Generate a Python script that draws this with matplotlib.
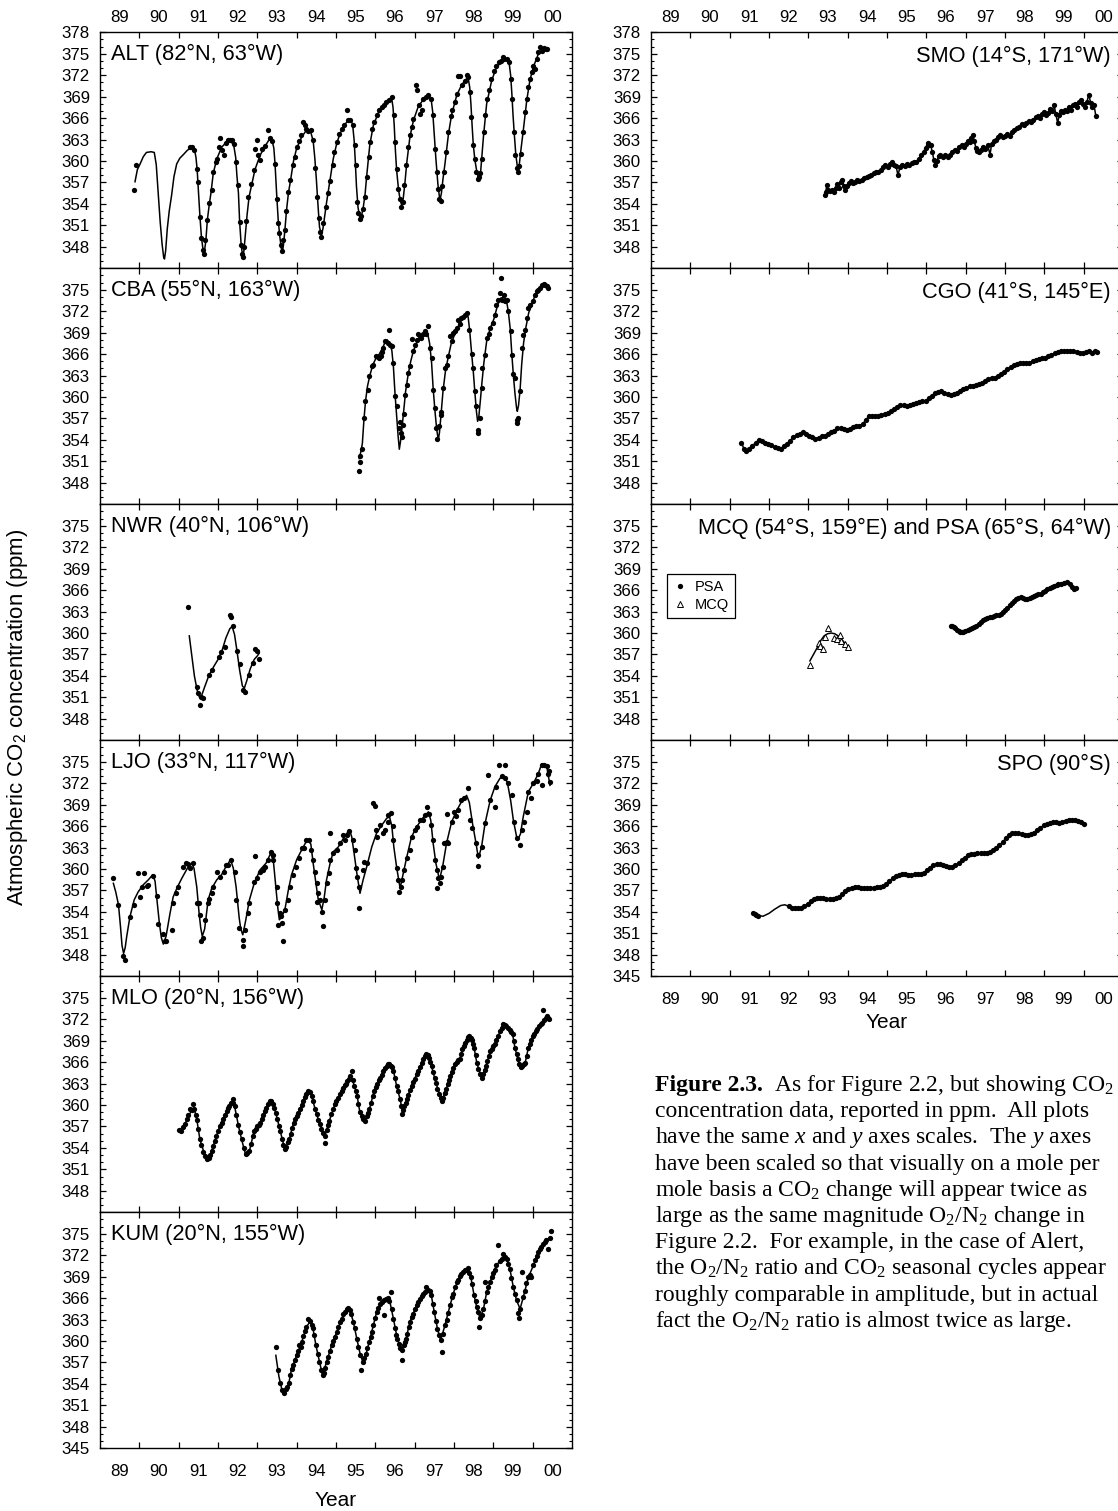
import matplotlib
matplotlib.use("Agg")
import matplotlib.pyplot as plt
from matplotlib.lines import Line2D
from matplotlib.ticker import FixedLocator, FixedFormatter, NullFormatter, MultipleLocator

plt.rcParams["font.family"] = ["Liberation Sans", "DejaVu Sans"]
plt.rcParams["mathtext.fontset"] = "custom"
plt.rcParams["mathtext.default"] = "regular"
plt.rcParams["mathtext.rm"] = "Liberation Serif"
plt.rcParams["mathtext.it"] = "Liberation Serif:italic"

# ---------------------------------------------------------------- axis data
YEAR_TICKS = [1990, 1991, 1992, 1993, 1994, 1995, 1996, 1997, 1998, 1999, 2000]
YEAR_CENTERS = [1989.5, 1990.5, 1991.5, 1992.5, 1993.5, 1994.5, 1995.5,
                1996.5, 1997.5, 1998.5, 1999.5, 2000.5]
YEAR_LABELS = ["89", "90", "91", "92", "93", "94", "95", "96", "97", "98", "99", "00"]
PPM_MIN, PPM_MAX = 345, 378

# ---------------------------------------------------------------- station data
# each *_FIT list is the smooth fitted curve, each *_OBS list the flask samples
ALT_FIT = [(1989.89, 357.1), (1989.95, 358.8), (1990.02, 359.6), (1990.10, 360.6), (1990.18, 361.2),
           (1990.30, 361.3), (1990.38, 361.2), (1990.43, 359.5), (1990.48, 355.5), (1990.53, 351.5),
           (1990.58, 348.3), (1990.62, 346.5), (1990.64, 346.3), (1990.67, 347.5), (1990.71, 350.5),
           (1990.76, 353.0), (1990.82, 355.2), (1990.88, 357.8), (1990.95, 359.6), (1991.03, 360.4),
           (1991.12, 360.9), (1991.22, 361.5), (1991.33, 361.9), (1991.40, 361.7), (1991.44, 360.5),
           (1991.47, 358.8), (1991.50, 356.0), (1991.54, 352.3), (1991.58, 349.3), (1991.62, 347.6),
           (1991.65, 347.2), (1991.69, 348.8), (1991.73, 351.8), (1991.78, 354.0), (1991.82, 355.5),
           (1991.88, 358.3), (1991.97, 360.3), (1992.09, 361.9), (1992.22, 362.7), (1992.32, 362.8),
           (1992.40, 362.2), (1992.45, 360.5), (1992.48, 358.0), (1992.52, 355.5), (1992.55, 351.5),
           (1992.59, 348.2), (1992.63, 346.6), (1992.66, 347.5), (1992.70, 350.0), (1992.74, 352.5),
           (1992.79, 355.0), (1992.86, 356.8), (1992.94, 358.8), (1993.07, 360.8), (1993.19, 362.0),
           (1993.30, 363.0), (1993.37, 363.0), (1993.42, 361.8), (1993.45, 359.6), (1993.49, 355.5),
           (1993.53, 351.8), (1993.57, 349.5), (1993.61, 347.8), (1993.64, 347.3), (1993.67, 348.6),
           (1993.70, 350.3), (1993.74, 353.0), (1993.79, 355.5), (1993.85, 357.5), (1993.92, 360.0),
           (1994.00, 361.8), (1994.13, 363.4), (1994.25, 364.3), (1994.35, 364.2), (1994.42, 362.8),
           (1994.46, 360.5), (1994.50, 357.5), (1994.54, 354.0), (1994.58, 350.8), (1994.63, 349.6),
           (1994.67, 350.6), (1994.72, 352.6), (1994.76, 354.2), (1994.85, 357.4), (1994.93, 360.3),
           (1995.02, 362.5), (1995.10, 363.8), (1995.23, 365.2), (1995.36, 365.8), (1995.42, 365.2),
           (1995.46, 363.0), (1995.49, 360.0), (1995.52, 356.5), (1995.56, 353.5), (1995.61, 352.0),
           (1995.65, 352.4), (1995.69, 353.4), (1995.74, 355.4), (1995.78, 357.9), (1995.86, 362.3),
           (1995.95, 365.0), (1996.08, 366.8), (1996.20, 367.6), (1996.33, 368.3), (1996.42, 368.6),
           (1996.45, 367.5), (1996.48, 365.0), (1996.51, 361.5), (1996.54, 358.8), (1996.59, 356.0),
           (1996.63, 354.6), (1996.67, 353.8), (1996.71, 354.8), (1996.75, 356.8), (1996.80, 359.8),
           (1996.88, 363.4), (1996.97, 365.7), (1997.09, 367.6), (1997.22, 368.6), (1997.35, 369.1),
           (1997.42, 368.6), (1997.46, 366.8), (1997.50, 363.5), (1997.54, 360.3), (1997.59, 356.8),
           (1997.64, 354.5), (1997.68, 355.5), (1997.72, 357.5), (1997.77, 359.6), (1997.82, 362.0),
           (1997.86, 363.8), (1997.94, 366.5), (1998.07, 369.2), (1998.19, 370.6), (1998.30, 371.4),
           (1998.36, 371.6), (1998.40, 370.3), (1998.43, 368.0), (1998.46, 365.0), (1998.49, 362.3),
           (1998.53, 360.2), (1998.58, 358.5), (1998.64, 357.3), (1998.67, 358.0), (1998.70, 360.0),
           (1998.75, 363.5), (1998.83, 368.0), (1998.96, 371.3), (1999.08, 373.1), (1999.21, 373.9),
           (1999.34, 374.2), (1999.40, 373.8), (1999.44, 372.0), (1999.47, 369.5), (1999.50, 366.5),
           (1999.53, 364.0), (1999.57, 361.0), (1999.62, 358.8), (1999.66, 359.5), (1999.70, 361.5),
           (1999.76, 364.2), (1999.85, 368.5), (1999.93, 371.3), (2000.02, 373.2), (2000.14, 374.9),
           (2000.27, 375.6), (2000.36, 375.6)]
ALT_OBS = [(1989.87, 355.9), (1989.92, 359.5), (1991.29, 361.9), (1991.33, 362.0), (1991.38, 361.6),
           (1991.47, 358.9), (1991.50, 357.0), (1991.55, 352.2), (1991.58, 349.2), (1991.62, 347.5),
           (1991.64, 347.0), (1991.67, 348.9), (1991.73, 351.8), (1991.78, 354.2), (1991.84, 356.0),
           (1991.88, 358.4), (1991.94, 359.8), (1991.98, 360.3), (1992.03, 362.0), (1992.05, 363.2),
           (1992.11, 361.5), (1992.15, 360.9), (1992.20, 362.5), (1992.25, 363.0), (1992.30, 363.0),
           (1992.35, 362.9), (1992.40, 362.4), (1992.45, 359.8), (1992.50, 356.7), (1992.55, 351.5),
           (1992.58, 348.2), (1992.61, 347.0), (1992.63, 346.6), (1992.67, 348.0), (1992.72, 351.6),
           (1992.77, 355.0), (1992.84, 356.8), (1992.92, 358.7), (1992.98, 362.9), (1992.95, 361.7),
           (1993.02, 360.8), (1993.07, 360.2), (1993.13, 361.7), (1993.20, 362.1), (1993.26, 364.4),
           (1993.32, 363.2), (1993.38, 362.8), (1993.45, 359.6), (1993.49, 354.7), (1993.53, 351.3),
           (1993.56, 349.9), (1993.60, 348.3), (1993.63, 347.4), (1993.66, 349.0), (1993.70, 350.4),
           (1993.74, 353.0), (1993.79, 355.6), (1993.84, 357.4), (1993.90, 359.5), (1993.95, 360.6),
           (1994.00, 362.0), (1994.06, 362.8), (1994.12, 363.6), (1994.15, 365.5), (1994.20, 365.0),
           (1994.25, 364.5), (1994.30, 364.2), (1994.36, 364.3), (1994.42, 363.0), (1994.47, 359.0),
           (1994.52, 355.0), (1994.56, 352.0), (1994.60, 350.1), (1994.62, 349.4), (1994.68, 351.3),
           (1994.74, 353.6), (1994.80, 355.5), (1994.86, 357.2), (1994.92, 359.5), (1994.96, 361.2),
           (1995.02, 362.7), (1995.08, 363.8), (1995.14, 364.5), (1995.20, 365.0), (1995.27, 367.2),
           (1995.30, 365.8), (1995.36, 365.7), (1995.42, 365.0), (1995.48, 362.2), (1995.51, 359.4),
           (1995.54, 354.3), (1995.57, 352.7), (1995.60, 351.9), (1995.63, 352.3), (1995.69, 353.3),
           (1995.73, 355.0), (1995.78, 357.8), (1995.83, 360.5), (1995.87, 362.7), (1995.92, 364.5),
           (1995.97, 365.4), (1996.03, 366.4), (1996.10, 367.1), (1996.16, 367.6), (1996.22, 367.9),
           (1996.28, 368.2), (1996.35, 368.5), (1996.42, 368.9), (1996.47, 366.4), (1996.50, 362.7),
           (1996.54, 358.9), (1996.58, 356.1), (1996.62, 354.7), (1996.66, 353.6), (1996.70, 354.3),
           (1996.74, 356.6), (1996.79, 359.5), (1996.84, 362.0), (1996.88, 363.6), (1996.93, 364.8),
           (1996.97, 365.9), (1997.03, 370.7), (1997.06, 369.9), (1997.10, 367.8), (1997.14, 366.6),
           (1997.18, 367.1), (1997.22, 368.7), (1997.28, 369.0), (1997.35, 369.2), (1997.42, 368.7),
           (1997.47, 366.4), (1997.52, 361.7), (1997.56, 358.5), (1997.60, 356.1), (1997.63, 354.7),
           (1997.66, 354.4), (1997.70, 356.5), (1997.75, 358.5), (1997.80, 361.3), (1997.86, 364.0),
           (1997.92, 366.3), (1997.96, 367.2), (1998.02, 368.3), (1998.07, 369.4), (1998.11, 371.9),
           (1998.16, 371.9), (1998.20, 370.6), (1998.27, 371.2), (1998.32, 372.0), (1998.36, 371.7),
           (1998.40, 369.6), (1998.44, 366.1), (1998.49, 362.2), (1998.53, 360.3), (1998.57, 358.5),
           (1998.60, 357.5), (1998.63, 357.8), (1998.67, 358.3), (1998.71, 360.3), (1998.76, 364.0),
           (1998.80, 366.5), (1998.85, 368.7), (1998.90, 370.0), (1998.95, 371.5), (1999.01, 372.6),
           (1999.08, 373.3), (1999.14, 373.8), (1999.20, 374.0), (1999.24, 374.5), (1999.28, 374.2),
           (1999.34, 374.3), (1999.40, 373.9), (1999.45, 371.5), (1999.48, 368.7), (1999.52, 364.0),
           (1999.56, 360.8), (1999.60, 359.0), (1999.63, 358.5), (1999.66, 359.3), (1999.70, 361.0),
           (1999.75, 364.0), (1999.80, 366.8), (1999.85, 368.7), (1999.89, 370.4), (1999.93, 371.5),
           (1999.98, 372.5), (2000.02, 373.3), (2000.05, 372.8), (2000.10, 374.3), (2000.14, 375.2),
           (2000.19, 375.9), (2000.24, 375.4), (2000.28, 375.8), (2000.33, 375.6), (2000.36, 375.7)]

CBA_FIT = [(1995.59, 351.4), (1995.63, 352.3), (1995.67, 353.5), (1995.71, 356.8), (1995.75, 359.4),
           (1995.80, 361.5), (1995.86, 363.0), (1995.93, 364.4), (1996.02, 365.5), (1996.10, 366.0),
           (1996.18, 366.8), (1996.25, 367.7), (1996.30, 368.0), (1996.36, 367.6), (1996.42, 366.5),
           (1996.46, 364.2), (1996.50, 360.5), (1996.54, 357.5), (1996.58, 354.5), (1996.61, 352.7),
           (1996.64, 353.8), (1996.68, 355.8), (1996.72, 358.0), (1996.77, 360.8), (1996.83, 363.0),
           (1996.90, 365.0), (1996.97, 366.5), (1997.07, 367.8), (1997.18, 368.6), (1997.27, 369.0),
           (1997.33, 368.9), (1997.38, 367.5), (1997.43, 364.8), (1997.47, 361.2), (1997.52, 357.8),
           (1997.56, 355.5), (1997.60, 354.0), (1997.63, 355.0), (1997.67, 357.5), (1997.72, 360.8),
           (1997.78, 363.5), (1997.85, 365.5), (1997.93, 367.5), (1998.02, 368.8), (1998.12, 370.0),
           (1998.22, 371.0), (1998.31, 371.6), (1998.36, 371.2), (1998.40, 369.2), (1998.45, 366.0),
           (1998.49, 363.6), (1998.53, 360.7), (1998.57, 358.0), (1998.60, 356.6), (1998.63, 357.2),
           (1998.67, 359.5), (1998.71, 362.0), (1998.76, 364.8), (1998.83, 367.8), (1998.92, 369.6),
           (1999.02, 371.0), (1999.10, 372.7), (1999.18, 373.8), (1999.26, 374.0), (1999.33, 373.6),
           (1999.38, 372.0), (1999.43, 369.5), (1999.47, 366.0), (1999.51, 363.0), (1999.55, 360.5),
           (1999.59, 358.5), (1999.61, 358.0), (1999.64, 358.8), (1999.68, 361.0), (1999.72, 364.5),
           (1999.77, 367.6), (1999.83, 369.8), (1999.90, 371.8), (1999.98, 373.0), (2000.06, 374.2),
           (2000.14, 375.0), (2000.23, 375.5), (2000.31, 375.6), (2000.40, 375.3)]
CBA_OBS = [(1995.59, 349.7), (1995.61, 350.9), (1995.60, 351.7), (1995.67, 352.7), (1995.71, 357.1),
           (1995.75, 359.4), (1995.82, 361.0), (1995.85, 362.9), (1995.92, 364.3), (1995.95, 364.5),
           (1996.02, 365.8), (1996.06, 365.6), (1996.09, 365.5), (1996.14, 365.8), (1996.18, 366.3),
           (1996.20, 366.8), (1996.25, 367.9), (1996.31, 367.6), (1996.36, 369.4), (1996.37, 367.3),
           (1996.43, 367.2), (1996.46, 364.8), (1996.50, 360.2), (1996.54, 358.7), (1996.59, 355.6),
           (1996.62, 356.5), (1996.64, 355.0), (1996.67, 354.4), (1996.70, 356.1), (1996.73, 357.6),
           (1996.76, 360.3), (1996.80, 361.7), (1996.84, 363.3), (1996.88, 364.3), (1996.94, 368.1),
           (1996.95, 366.5), (1997.01, 367.3), (1997.05, 368.0), (1997.09, 368.8), (1997.13, 368.5),
           (1997.17, 368.2), (1997.22, 368.8), (1997.26, 369.2), (1997.30, 368.8), (1997.35, 370.0),
           (1997.39, 366.8), (1997.43, 365.4), (1997.47, 361.0), (1997.51, 358.5), (1997.55, 355.7),
           (1997.58, 354.2), (1997.62, 355.9), (1997.66, 357.9), (1997.67, 357.5), (1997.73, 361.3),
           (1997.77, 364.0), (1997.81, 364.5), (1997.86, 365.8), (1997.90, 368.5), (1997.94, 367.8),
           (1997.98, 368.9), (1998.03, 369.2), (1998.07, 369.6), (1998.11, 370.8), (1998.15, 370.2),
           (1998.19, 371.0), (1998.24, 371.2), (1998.28, 371.5), (1998.32, 371.7), (1998.39, 369.4),
           (1998.45, 366.0), (1998.49, 364.0), (1998.53, 360.8), (1998.56, 358.8), (1998.60, 355.4),
           (1998.61, 355.0), (1998.66, 357.1), (1998.70, 361.3), (1998.72, 364.0), (1998.79, 365.9),
           (1998.83, 368.2), (1998.88, 368.8), (1998.92, 369.6), (1998.98, 370.3), (1999.04, 371.5),
           (1999.08, 372.9), (1999.13, 373.6), (1999.17, 374.5), (1999.19, 376.6), (1999.22, 373.6),
           (1999.26, 374.2), (1999.30, 373.4), (1999.34, 373.5), (1999.38, 372.0), (1999.45, 369.2),
           (1999.48, 365.9), (1999.51, 363.2), (1999.55, 362.6), (1999.60, 356.8), (1999.63, 357.0),
           (1999.61, 356.4), (1999.68, 360.8), (1999.72, 366.8), (1999.76, 368.7), (1999.80, 369.4),
           (1999.85, 371.0), (1999.89, 372.4), (1999.93, 372.9), (2000.00, 373.4), (2000.06, 374.3),
           (2000.10, 374.8), (2000.14, 375.0), (2000.19, 375.2), (2000.23, 375.6), (2000.28, 375.8),
           (2000.31, 375.7), (2000.36, 375.5), (2000.40, 375.3)]

NWR_FIT = [(1991.27, 359.6), (1991.33, 357.0), (1991.40, 354.0), (1991.47, 352.0), (1991.53, 351.0),
           (1991.58, 351.2), (1991.65, 352.3), (1991.75, 353.8), (1991.88, 355.2), (1992.00, 356.3),
           (1992.10, 357.5), (1992.20, 359.3), (1992.30, 360.6), (1992.36, 360.9), (1992.42, 359.8),
           (1992.48, 357.6), (1992.55, 354.8), (1992.62, 352.6), (1992.67, 352.3), (1992.73, 353.3),
           (1992.82, 355.0), (1992.92, 356.3), (1993.00, 356.8), (1993.05, 357.2)]
NWR_OBS = [(1991.23, 363.6), (1991.46, 352.4), (1991.50, 351.6), (1991.53, 350.0), (1991.58, 351.0),
           (1991.63, 350.9), (1991.78, 354.2), (1991.85, 354.9), (1992.02, 356.6), (1992.08, 357.3),
           (1992.17, 358.0), (1992.30, 362.5), (1992.34, 362.2), (1992.38, 361.0), (1992.48, 357.5),
           (1992.55, 355.6), (1992.64, 352.1), (1992.68, 351.8), (1992.78, 354.2), (1992.88, 355.8),
           (1992.95, 357.8), (1993.00, 357.5), (1993.04, 356.3)]

LJO_FIT = [(1989.34, 358.0), (1989.40, 356.8), (1989.47, 355.0), (1989.52, 352.0), (1989.56, 349.3),
           (1989.60, 348.2), (1989.64, 349.0), (1989.68, 350.6), (1989.76, 353.3), (1989.87, 355.7),
           (1989.97, 356.8), (1990.10, 357.8), (1990.23, 358.5), (1990.34, 359.2), (1990.40, 358.3),
           (1990.44, 356.1), (1990.51, 352.4), (1990.56, 350.4), (1990.61, 349.5), (1990.68, 350.6),
           (1990.78, 353.8), (1990.86, 356.1), (1990.97, 357.5), (1991.08, 358.7), (1991.22, 360.1),
           (1991.33, 360.8), (1991.39, 360.1), (1991.46, 357.5), (1991.52, 353.8), (1991.56, 351.8),
           (1991.60, 350.6), (1991.66, 351.6), (1991.75, 355.7), (1991.84, 357.3), (1991.97, 358.5),
           (1992.09, 359.2), (1992.20, 360.3), (1992.32, 361.3), (1992.39, 360.1), (1992.46, 357.5),
           (1992.54, 353.1), (1992.58, 351.6), (1992.63, 350.8), (1992.70, 352.7), (1992.80, 355.7),
           (1992.92, 358.0), (1993.07, 359.9), (1993.22, 360.8), (1993.34, 362.2), (1993.41, 361.0),
           (1993.47, 357.5), (1993.52, 354.6), (1993.56, 352.9), (1993.62, 353.3), (1993.70, 354.3),
           (1993.79, 357.1), (1993.87, 359.2), (1994.00, 361.3), (1994.13, 362.7), (1994.27, 364.1),
           (1994.36, 363.5), (1994.42, 360.8), (1994.49, 358.0), (1994.55, 355.7), (1994.64, 354.3),
           (1994.70, 356.0), (1994.76, 358.5), (1994.85, 360.8), (1994.93, 362.4), (1995.06, 363.1),
           (1995.19, 364.3), (1995.34, 365.5), (1995.40, 364.5), (1995.46, 362.2), (1995.53, 359.4),
           (1995.61, 356.6), (1995.69, 358.5), (1995.78, 360.3), (1995.91, 363.1), (1996.03, 365.0),
           (1996.16, 366.1), (1996.29, 367.1), (1996.36, 367.3), (1996.42, 366.0), (1996.47, 363.1),
           (1996.54, 360.3), (1996.63, 357.3), (1996.71, 359.4), (1996.80, 361.7), (1996.92, 364.5),
           (1997.05, 365.9), (1997.20, 367.1), (1997.35, 368.0), (1997.41, 366.8), (1997.47, 363.6),
           (1997.54, 360.8), (1997.63, 358.5), (1997.71, 360.3), (1997.81, 363.6), (1997.94, 366.6),
           (1998.07, 368.2), (1998.19, 369.4), (1998.32, 370.3), (1998.39, 369.3), (1998.47, 366.4),
           (1998.56, 363.6), (1998.62, 361.5), (1998.70, 363.1), (1998.79, 366.4), (1998.92, 369.6),
           (1999.04, 371.5), (1999.17, 372.7), (1999.30, 372.8), (1999.36, 372.0), (1999.44, 369.6),
           (1999.51, 366.8), (1999.61, 364.0), (1999.69, 364.9), (1999.76, 367.3), (1999.89, 370.8),
           (2000.02, 372.0), (2000.14, 373.3), (2000.23, 374.7), (2000.36, 374.3), (2000.44, 371.7)]
LJO_OBS = [(1989.33, 358.8), (1989.47, 355.0), (1989.58, 347.9), (1989.63, 347.3), (1989.76, 353.3),
           (1989.87, 355.0), (1989.97, 359.4), (1990.02, 356.1), (1990.06, 357.5), (1990.13, 359.4),
           (1990.19, 357.6), (1990.23, 357.7), (1990.34, 359.0), (1990.44, 356.2), (1990.48, 352.3),
           (1990.59, 350.9), (1990.65, 349.9), (1990.69, 349.9), (1990.82, 351.5), (1990.86, 355.2),
           (1990.93, 356.6), (1990.99, 357.5), (1991.12, 360.3), (1991.18, 360.8), (1991.25, 360.7),
           (1991.29, 360.1), (1991.37, 360.8), (1991.46, 355.2), (1991.52, 355.2), (1991.54, 353.6),
           (1991.57, 349.9), (1991.63, 350.3), (1991.67, 352.9), (1991.75, 355.2), (1991.78, 355.8),
           (1991.84, 356.6), (1991.88, 357.5), (1991.98, 359.6), (1992.05, 358.9), (1992.14, 359.6),
           (1992.20, 360.6), (1992.26, 360.6), (1992.32, 361.3), (1992.42, 359.6), (1992.47, 355.7),
           (1992.54, 351.7), (1992.63, 350.1), (1992.64, 349.3), (1992.69, 351.5), (1992.77, 353.8),
           (1992.80, 355.3), (1992.92, 358.2), (1992.94, 361.8), (1992.98, 358.7), (1993.07, 359.6),
           (1993.15, 359.9), (1993.19, 360.3), (1993.28, 361.2), (1993.34, 362.4), (1993.39, 361.3),
           (1993.41, 362.0), (1993.49, 357.5), (1993.51, 355.2), (1993.53, 352.2), (1993.58, 353.8),
           (1993.59, 353.4), (1993.62, 352.4), (1993.64, 350.0), (1993.70, 354.3), (1993.79, 355.7),
           (1993.83, 357.5), (1993.90, 359.2), (1993.98, 360.3), (1994.07, 361.5), (1994.13, 362.9),
           (1994.19, 362.9), (1994.25, 364.0), (1994.31, 364.0), (1994.36, 362.6), (1994.42, 361.3),
           (1994.47, 359.6), (1994.51, 358.0), (1994.55, 356.6), (1994.52, 355.4), (1994.59, 355.7),
           (1994.64, 354.0), (1994.68, 352.0), (1994.72, 355.7), (1994.76, 358.0), (1994.81, 359.4),
           (1994.85, 365.0), (1994.86, 361.3), (1994.93, 362.2), (1995.02, 362.7), (1995.10, 363.6),
           (1995.17, 364.7), (1995.23, 364.0), (1995.29, 364.7), (1995.34, 365.3), (1995.44, 364.0),
           (1995.48, 362.6), (1995.51, 360.1), (1995.53, 358.9), (1995.59, 357.5), (1995.59, 354.6),
           (1995.69, 359.9), (1995.72, 361.0), (1995.78, 360.9), (1995.93, 369.2), (1995.99, 368.8),
           (1996.02, 365.5), (1996.05, 364.5), (1996.12, 366.1), (1996.20, 365.0), (1996.25, 365.4),
           (1996.31, 366.6), (1996.33, 367.5), (1996.39, 367.8), (1996.44, 366.0), (1996.46, 364.0),
           (1996.54, 360.1), (1996.58, 358.5), (1996.61, 356.8), (1996.64, 357.5), (1996.67, 358.5),
           (1996.73, 359.9), (1996.80, 361.5), (1996.88, 362.7), (1996.92, 364.5), (1997.01, 365.4),
           (1997.07, 365.9), (1997.14, 366.8), (1997.20, 366.8), (1997.26, 367.5), (1997.31, 368.7),
           (1997.37, 367.7), (1997.41, 366.1), (1997.46, 364.0), (1997.52, 361.3), (1997.56, 359.9),
           (1997.60, 358.7), (1997.58, 357.3), (1997.64, 358.0), (1997.68, 358.9), (1997.73, 360.3),
           (1997.75, 363.6), (1997.81, 363.8), (1997.85, 363.6), (1997.81, 367.7), (1997.94, 366.6),
           (1998.00, 368.0), (1998.05, 367.4), (1998.11, 368.2), (1998.17, 369.6), (1998.25, 369.9),
           (1998.36, 371.3), (1998.41, 366.8), (1998.47, 365.7), (1998.56, 363.6), (1998.60, 362.0),
           (1998.62, 360.4), (1998.70, 363.1), (1998.79, 366.4), (1998.87, 373.1), (1998.92, 369.6),
           (1999.03, 368.7), (1999.08, 371.5), (1999.15, 374.5), (1999.21, 373.0), (1999.30, 374.5),
           (1999.30, 372.7), (1999.38, 372.0), (1999.47, 370.3), (1999.53, 366.6), (1999.59, 364.3),
           (1999.68, 363.3), (1999.72, 365.4), (1999.78, 366.6), (1999.85, 368.0), (1999.89, 370.8),
           (1999.97, 369.9), (2000.02, 372.0), (2000.10, 372.3), (2000.14, 373.3), (2000.23, 371.8),
           (2000.23, 374.6), (2000.29, 374.6), (2000.36, 374.4), (2000.38, 373.3), (2000.42, 373.7),
           (2000.44, 372.2)]

MLO_FIT = [(1991.01, 356.5), (1991.12, 356.8), (1991.25, 358.5), (1991.33, 359.2), (1991.40, 359.4),
           (1991.46, 358.0), (1991.54, 355.2), (1991.63, 353.6), (1991.71, 352.4), (1991.80, 352.9),
           (1991.92, 355.0), (1992.05, 357.1), (1992.18, 358.7), (1992.29, 359.9), (1992.37, 360.3),
           (1992.43, 359.6), (1992.52, 357.1), (1992.60, 355.2), (1992.70, 353.1), (1992.80, 353.6),
           (1992.92, 356.4), (1993.07, 357.5), (1993.19, 359.2), (1993.31, 360.6), (1993.39, 360.2),
           (1993.47, 358.9), (1993.58, 356.4), (1993.70, 353.8), (1993.81, 355.2), (1993.92, 357.5),
           (1994.04, 358.9), (1994.17, 360.6), (1994.30, 362.0), (1994.36, 361.7), (1994.47, 359.4),
           (1994.59, 357.3), (1994.72, 355.7), (1994.83, 357.8), (1994.97, 360.1), (1995.10, 361.5),
           (1995.25, 362.9), (1995.36, 364.0), (1995.42, 363.5), (1995.53, 361.5), (1995.61, 358.9),
           (1995.74, 357.8), (1995.85, 359.4), (1995.99, 362.4), (1996.12, 363.8), (1996.25, 365.2),
           (1996.36, 365.7), (1996.46, 364.8), (1996.54, 362.7), (1996.63, 360.8), (1996.69, 359.2),
           (1996.80, 360.8), (1996.92, 362.7), (1997.05, 364.3), (1997.18, 365.9), (1997.29, 367.1),
           (1997.37, 366.6), (1997.43, 365.4), (1997.54, 363.1), (1997.69, 360.6), (1997.80, 362.2),
           (1997.90, 364.0), (1998.03, 365.7), (1998.14, 366.4), (1998.28, 368.7), (1998.39, 369.6),
           (1998.45, 369.1), (1998.51, 368.0), (1998.58, 365.9), (1998.70, 363.8), (1998.81, 365.4),
           (1998.92, 367.5), (1999.04, 368.5), (1999.17, 370.3), (1999.25, 371.3), (1999.38, 370.8),
           (1999.49, 369.9), (1999.55, 368.0), (1999.64, 366.1), (1999.70, 365.3), (1999.81, 365.9),
           (1999.89, 368.0), (2000.00, 369.6), (2000.12, 370.7), (2000.23, 371.5), (2000.36, 372.4),
           (2000.42, 372.0)]
MLO_OBS = [(1991.01, 356.5), (1991.05, 356.4), (1991.10, 356.9), (1991.15, 357.3), (1991.20, 358.0),
           (1991.25, 358.6), (1991.30, 359.4), (1991.33, 359.3), (1991.36, 360.2), (1991.40, 359.4),
           (1991.43, 358.6), (1991.46, 357.9), (1991.50, 356.7), (1991.54, 355.2), (1991.58, 354.4),
           (1991.63, 353.5), (1991.67, 352.9), (1991.71, 352.4), (1991.76, 352.6), (1991.80, 353.0),
           (1991.84, 353.6), (1991.88, 354.3), (1991.92, 355.0), (1991.96, 355.6), (1992.00, 356.4),
           (1992.05, 357.0), (1992.09, 357.5), (1992.13, 358.0), (1992.18, 358.6), (1992.22, 359.2),
           (1992.26, 359.6), (1992.29, 359.9), (1992.33, 360.3), (1992.37, 360.3), (1992.39, 360.9),
           (1992.43, 359.8), (1992.47, 358.6), (1992.52, 357.2), (1992.56, 356.2), (1992.60, 355.2),
           (1992.65, 354.0), (1992.70, 353.1), (1992.75, 353.3), (1992.80, 353.6), (1992.84, 354.5),
           (1992.88, 355.6), (1992.92, 356.4), (1992.96, 356.7), (1993.00, 357.0), (1993.03, 357.2),
           (1993.07, 357.5), (1993.11, 358.1), (1993.15, 358.6), (1993.19, 359.2), (1993.23, 359.6),
           (1993.27, 360.1), (1993.31, 360.6), (1993.35, 360.5), (1993.39, 360.1), (1993.43, 359.6),
           (1993.47, 358.9), (1993.51, 358.0), (1993.55, 357.1), (1993.58, 356.4), (1993.62, 355.3),
           (1993.66, 354.4), (1993.70, 353.8), (1993.74, 354.2), (1993.78, 354.8), (1993.81, 355.2),
           (1993.85, 356.0), (1993.88, 356.8), (1993.92, 357.5), (1993.96, 358.0), (1994.00, 358.5),
           (1994.04, 358.9), (1994.08, 359.4), (1994.13, 360.0), (1994.17, 360.6), (1994.21, 361.1),
           (1994.25, 361.6), (1994.30, 362.0), (1994.34, 361.8), (1994.38, 361.3), (1994.42, 360.6),
           (1994.47, 359.4), (1994.51, 358.7), (1994.55, 357.9), (1994.59, 357.3), (1994.63, 356.6),
           (1994.68, 356.1), (1994.72, 355.7), (1994.72, 354.7), (1994.76, 356.5), (1994.80, 357.2),
           (1994.83, 357.8), (1994.88, 358.7), (1994.92, 359.4), (1994.97, 360.1), (1995.01, 360.5),
           (1995.05, 361.0), (1995.10, 361.5), (1995.14, 361.9), (1995.18, 362.4), (1995.22, 362.8),
           (1995.25, 362.9), (1995.29, 363.3), (1995.33, 363.7), (1995.36, 364.0), (1995.40, 364.7),
           (1995.43, 363.5), (1995.47, 362.7), (1995.50, 362.0), (1995.53, 361.3), (1995.57, 360.2),
           (1995.61, 359.0), (1995.65, 358.4), (1995.69, 358.0), (1995.74, 357.8), (1995.78, 358.4),
           (1995.82, 358.9), (1995.85, 359.4), (1995.89, 360.3), (1995.93, 361.2), (1995.97, 362.0),
           (1996.01, 362.5), (1996.05, 363.0), (1996.09, 363.5), (1996.12, 363.8), (1996.16, 364.2),
           (1996.20, 364.7), (1996.25, 365.2), (1996.29, 365.5), (1996.33, 365.8), (1996.36, 365.7),
           (1996.40, 365.5), (1996.43, 365.3), (1996.46, 364.8), (1996.50, 363.8), (1996.54, 362.7),
           (1996.58, 361.9), (1996.63, 360.8), (1996.66, 359.9), (1996.69, 358.7), (1996.70, 359.3),
           (1996.73, 359.8), (1996.77, 360.3), (1996.80, 360.8), (1996.84, 361.4), (1996.88, 362.1),
           (1996.92, 362.7), (1996.96, 363.2), (1997.00, 363.7), (1997.05, 364.3), (1997.09, 364.8),
           (1997.13, 365.3), (1997.18, 365.9), (1997.22, 366.4), (1997.26, 366.8), (1997.29, 367.1),
           (1997.33, 367.0), (1997.37, 366.6), (1997.40, 366.0), (1997.43, 365.4), (1997.47, 364.6),
           (1997.51, 363.8), (1997.54, 363.1), (1997.58, 362.3), (1997.62, 361.6), (1997.66, 361.0),
           (1997.69, 360.6), (1997.73, 361.0), (1997.77, 361.7), (1997.80, 362.2), (1997.84, 362.9),
           (1997.87, 363.5), (1997.90, 364.0), (1997.94, 364.6), (1997.98, 365.2), (1998.03, 365.7),
           (1998.07, 366.0), (1998.11, 366.3), (1998.14, 366.4), (1998.18, 367.1), (1998.21, 367.8),
           (1998.25, 368.2), (1998.28, 368.7), (1998.32, 369.1), (1998.36, 369.5), (1998.39, 369.6),
           (1998.42, 369.4), (1998.45, 369.1), (1998.48, 368.6), (1998.51, 368.0), (1998.55, 367.0),
           (1998.58, 365.9), (1998.62, 365.0), (1998.66, 364.3), (1998.70, 363.8), (1998.74, 364.3),
           (1998.78, 364.9), (1998.81, 365.4), (1998.85, 366.2), (1998.89, 366.9), (1998.92, 367.5),
           (1998.96, 367.9), (1999.00, 368.2), (1999.04, 368.5), (1999.08, 369.1), (1999.13, 369.7),
           (1999.17, 370.3), (1999.21, 370.8), (1999.25, 371.3), (1999.29, 371.2), (1999.33, 371.0),
           (1999.38, 370.8), (1999.42, 370.5), (1999.46, 370.2), (1999.49, 369.9), (1999.52, 369.0),
           (1999.55, 368.0), (1999.59, 367.1), (1999.62, 366.4), (1999.66, 365.8), (1999.70, 365.3),
           (1999.74, 365.5), (1999.78, 365.7), (1999.81, 365.9), (1999.85, 366.9), (1999.89, 368.0),
           (1999.93, 368.6), (1999.97, 369.1), (2000.00, 369.6), (2000.04, 370.0), (2000.08, 370.4),
           (2000.12, 370.7), (2000.16, 371.0), (2000.20, 371.3), (2000.23, 371.5), (2000.27, 373.3),
           (2000.30, 371.9), (2000.33, 372.2), (2000.36, 372.4), (2000.39, 372.1), (2000.42, 372.0)]

KUM_FIT = [(1993.47, 358.0), (1993.55, 355.0), (1993.62, 353.3), (1993.68, 352.7), (1993.74, 353.1),
           (1993.79, 353.8), (1993.87, 356.1), (1994.00, 358.0), (1994.13, 359.9), (1994.25, 362.0),
           (1994.34, 362.7), (1994.41, 361.9), (1994.49, 359.4), (1994.58, 357.1), (1994.66, 355.2),
           (1994.76, 357.1), (1994.89, 359.4), (1995.02, 361.3), (1995.14, 363.1), (1995.27, 364.5),
           (1995.36, 364.2), (1995.44, 362.7), (1995.53, 360.3), (1995.61, 358.3), (1995.68, 357.1),
           (1995.78, 358.5), (1995.91, 361.3), (1996.03, 364.0), (1996.16, 365.4), (1996.29, 366.0),
           (1996.37, 365.5), (1996.46, 363.1), (1996.56, 360.3), (1996.67, 358.7), (1996.78, 360.3),
           (1996.88, 362.7), (1997.01, 364.5), (1997.14, 365.9), (1997.26, 366.9), (1997.35, 367.2),
           (1997.42, 366.5), (1997.50, 364.0), (1997.58, 361.7), (1997.66, 360.1), (1997.77, 362.2),
           (1997.90, 365.0), (1998.03, 367.5), (1998.15, 369.1), (1998.28, 369.9), (1998.36, 370.2),
           (1998.42, 369.2), (1998.51, 366.4), (1998.58, 364.7), (1998.66, 363.2), (1998.75, 364.5),
           (1998.83, 366.8), (1998.96, 368.9), (1999.08, 370.6), (1999.21, 371.5), (1999.34, 371.5),
           (1999.42, 370.1), (1999.51, 367.5), (1999.59, 365.7), (1999.68, 364.5), (1999.76, 366.1),
           (1999.89, 368.9), (2000.02, 370.6), (2000.14, 372.4), (2000.27, 373.6), (2000.40, 374.3)]
KUM_OBS = [(1993.47, 359.2), (1993.52, 356.0), (1993.57, 354.2), (1993.62, 353.2), (1993.68, 352.7),
           (1993.72, 353.3), (1993.76, 353.6), (1993.80, 354.1), (1993.84, 355.3), (1993.87, 356.1),
           (1993.91, 356.6), (1993.95, 357.3), (1994.00, 358.0), (1994.03, 358.6), (1994.07, 359.4),
           (1994.10, 359.2), (1994.13, 359.9), (1994.17, 360.7), (1994.21, 361.4), (1994.25, 362.0),
           (1994.30, 363.1), (1994.34, 362.8), (1994.38, 362.2), (1994.41, 361.8), (1994.45, 360.8),
           (1994.49, 359.4), (1994.53, 358.2), (1994.58, 357.1), (1994.62, 356.0), (1994.66, 355.2),
           (1994.70, 355.5), (1994.73, 356.2), (1994.76, 357.1), (1994.80, 357.8), (1994.85, 358.6),
           (1994.89, 359.4), (1994.93, 360.0), (1994.97, 360.6), (1995.02, 361.3), (1995.06, 361.9),
           (1995.10, 362.6), (1995.14, 363.1), (1995.18, 363.8), (1995.22, 364.1), (1995.27, 364.5),
           (1995.31, 364.6), (1995.35, 364.4), (1995.39, 363.8), (1995.44, 362.7), (1995.48, 361.8),
           (1995.53, 360.3), (1995.57, 359.2), (1995.60, 358.1), (1995.64, 356.0), (1995.68, 357.1),
           (1995.72, 357.6), (1995.76, 358.2), (1995.80, 359.0), (1995.84, 359.9), (1995.88, 360.6),
           (1995.91, 361.3), (1995.95, 362.3), (1995.99, 363.2), (1996.03, 364.0), (1996.07, 364.6),
           (1996.10, 366.0), (1996.13, 365.2), (1996.17, 365.5), (1996.21, 365.8), (1996.23, 363.6),
           (1996.27, 365.9), (1996.31, 366.0), (1996.35, 365.6), (1996.39, 366.9), (1996.42, 364.5),
           (1996.46, 363.1), (1996.50, 361.8), (1996.53, 360.9), (1996.56, 360.3), (1996.60, 359.6),
           (1996.63, 359.0), (1996.67, 358.7), (1996.69, 357.4), (1996.72, 359.4), (1996.75, 359.9),
           (1996.78, 360.3), (1996.81, 361.0), (1996.85, 361.9), (1996.88, 362.7), (1996.92, 363.3),
           (1996.96, 363.8), (1997.01, 364.5), (1997.05, 365.0), (1997.09, 365.5), (1997.14, 365.9),
           (1997.18, 366.3), (1997.22, 366.6), (1997.26, 366.9), (1997.30, 367.6), (1997.35, 367.2),
           (1997.39, 367.0), (1997.42, 366.5), (1997.46, 365.2), (1997.50, 364.0), (1997.54, 362.8),
           (1997.58, 361.7), (1997.62, 360.8), (1997.66, 360.1), (1997.70, 358.5), (1997.73, 361.0),
           (1997.77, 362.2), (1997.81, 363.0), (1997.85, 363.9), (1997.90, 365.0), (1997.94, 366.1),
           (1997.98, 366.6), (1998.03, 367.5), (1998.07, 368.3), (1998.11, 368.6), (1998.15, 369.1),
           (1998.19, 369.4), (1998.24, 369.6), (1998.28, 369.9), (1998.32, 370.0), (1998.36, 370.2),
           (1998.39, 369.5), (1998.42, 369.0), (1998.46, 368.0), (1998.51, 366.4), (1998.55, 365.6),
           (1998.58, 364.7), (1998.62, 364.0), (1998.64, 362.0), (1998.66, 363.2), (1998.70, 363.6),
           (1998.75, 364.5), (1998.79, 368.3), (1998.79, 365.6), (1998.83, 366.8), (1998.87, 367.5),
           (1998.91, 368.2), (1998.96, 368.9), (1999.00, 369.5), (1999.04, 370.0), (1999.08, 370.6),
           (1999.13, 373.4), (1999.17, 371.2), (1999.21, 371.5), (1999.25, 372.2), (1999.29, 371.8),
           (1999.34, 371.5), (1999.38, 370.8), (1999.42, 370.1), (1999.46, 368.8), (1999.51, 367.5),
           (1999.55, 366.6), (1999.59, 365.7), (1999.63, 363.9), (1999.66, 363.2), (1999.68, 364.5),
           (1999.72, 369.7), (1999.76, 366.1), (1999.80, 367.0), (1999.84, 368.1), (1999.89, 368.9),
           (1999.93, 369.3), (1999.97, 369.0), (2000.02, 370.6), (2000.06, 371.3), (2000.10, 371.9),
           (2000.14, 372.4), (2000.18, 372.9), (2000.22, 373.2), (2000.27, 373.6), (2000.31, 373.9),
           (2000.35, 374.1), (2000.40, 372.9), (2000.43, 374.4), (2000.46, 375.4)]

SMO_OBS = [(1993.42, 355.2), (1993.44, 355.6), (1993.47, 356.6), (1993.51, 356.0), (1993.55, 355.8),
           (1993.60, 355.9), (1993.65, 355.7), (1993.70, 356.2), (1993.74, 356.8), (1993.78, 356.2),
           (1993.82, 357.1), (1993.86, 357.4), (1993.90, 356.5), (1993.94, 356.0), (1993.98, 356.5),
           (1994.03, 356.9), (1994.08, 357.2), (1994.13, 356.9), (1994.18, 357.1), (1994.24, 357.3),
           (1994.30, 357.2), (1994.36, 357.4), (1994.42, 357.6), (1994.48, 357.7), (1994.54, 357.9),
           (1994.60, 358.1), (1994.66, 358.3), (1994.72, 358.5), (1994.78, 358.4), (1994.84, 358.8),
           (1994.90, 359.1), (1994.96, 359.4), (1995.02, 359.2), (1995.08, 359.6), (1995.13, 359.9),
           (1995.18, 359.5), (1995.23, 359.3), (1995.28, 358.0), (1995.33, 359.2), (1995.39, 359.5),
           (1995.45, 359.3), (1995.51, 359.6), (1995.57, 359.4), (1995.63, 359.7), (1995.69, 359.8),
           (1995.75, 359.9), (1995.81, 360.3), (1995.87, 360.8), (1995.93, 361.3), (1995.98, 361.8),
           (1996.03, 362.5), (1996.07, 362.3), (1996.11, 362.2), (1996.15, 361.3), (1996.19, 360.2),
           (1996.23, 359.5), (1996.27, 360.0), (1996.31, 360.7), (1996.36, 360.9), (1996.42, 360.5),
           (1996.48, 360.8), (1996.54, 360.6), (1996.60, 360.9), (1996.66, 361.2), (1996.72, 361.6),
           (1996.78, 361.4), (1996.84, 361.9), (1996.90, 362.2), (1996.95, 362.0), (1997.00, 362.4),
           (1997.05, 362.8), (1997.10, 362.6), (1997.14, 363.2), (1997.18, 363.6), (1997.22, 362.8),
           (1997.26, 361.8), (1997.30, 361.4), (1997.35, 361.3), (1997.40, 361.6), (1997.45, 361.9),
           (1997.50, 361.7), (1997.56, 362.2), (1997.62, 360.9), (1997.66, 362.4), (1997.71, 362.8),
           (1997.76, 363.0), (1997.82, 363.3), (1997.88, 363.6), (1997.94, 363.3), (1998.00, 363.5),
           (1998.06, 363.8), (1998.12, 363.5), (1998.18, 364.0), (1998.24, 364.3), (1998.30, 364.6),
           (1998.36, 364.8), (1998.42, 365.2), (1998.48, 365.0), (1998.54, 365.3), (1998.60, 365.6),
           (1998.66, 365.5), (1998.72, 365.8), (1998.78, 366.1), (1998.84, 366.3), (1998.90, 366.0),
           (1998.95, 366.6), (1999.00, 366.9), (1999.05, 366.4), (1999.10, 366.7), (1999.15, 367.3),
           (1999.20, 367.0), (1999.25, 367.8), (1999.29, 366.6), (1999.34, 365.3), (1999.38, 366.5),
           (1999.43, 367.0), (1999.48, 366.8), (1999.53, 367.2), (1999.58, 367.0), (1999.63, 367.6),
           (1999.68, 367.2), (1999.73, 367.8), (1999.78, 368.0), (1999.83, 367.5), (1999.88, 368.2),
           (1999.93, 368.6), (1999.98, 368.0), (2000.03, 367.6), (2000.08, 368.2), (2000.13, 369.3),
           (2000.18, 368.1), (2000.22, 367.6), (2000.26, 367.9), (2000.31, 366.3)]

CGO_OBS = [(1991.30, 353.6), (1991.36, 352.8), (1991.42, 352.4), (1991.50, 352.8), (1991.58, 353.2),
           (1991.66, 353.6), (1991.74, 354.0), (1991.82, 353.8), (1991.90, 353.6), (1991.98, 353.5),
           (1992.06, 353.3), (1992.14, 353.0), (1992.22, 352.9), (1992.30, 352.8), (1992.38, 353.1),
           (1992.46, 353.5), (1992.54, 353.9), (1992.62, 354.4), (1992.70, 354.7), (1992.78, 354.9),
           (1992.86, 355.1), (1992.94, 354.9), (1993.02, 354.6), (1993.10, 354.4), (1993.18, 354.2),
           (1993.26, 354.3), (1993.34, 354.5), (1993.42, 354.6), (1993.50, 354.8), (1993.58, 355.1),
           (1993.66, 355.3), (1993.74, 355.6), (1993.82, 355.7), (1993.90, 355.5), (1993.98, 355.4),
           (1994.06, 355.5), (1994.14, 355.8), (1994.22, 355.9), (1994.30, 356.0), (1994.38, 356.2),
           (1994.46, 356.8), (1994.54, 357.3), (1994.62, 357.3), (1994.70, 357.4), (1994.78, 357.3),
           (1994.86, 357.5), (1994.94, 357.6), (1995.02, 357.7), (1995.10, 358.0), (1995.18, 358.3),
           (1995.26, 358.6), (1995.34, 358.9), (1995.42, 358.9), (1995.50, 358.8), (1995.58, 358.9),
           (1995.66, 359.0), (1995.74, 359.1), (1995.82, 359.3), (1995.90, 359.4), (1995.98, 359.5),
           (1996.06, 359.8), (1996.14, 360.2), (1996.22, 360.5), (1996.30, 360.7), (1996.38, 360.8),
           (1996.46, 360.6), (1996.54, 360.4), (1996.62, 360.3), (1996.70, 360.4), (1996.78, 360.5),
           (1996.86, 360.8), (1996.94, 361.1), (1997.02, 361.3), (1997.10, 361.5), (1997.18, 361.6),
           (1997.26, 361.7), (1997.34, 361.8), (1997.42, 362.0), (1997.50, 362.3), (1997.58, 362.5),
           (1997.66, 362.6), (1997.74, 362.7), (1997.82, 362.9), (1997.90, 363.2), (1997.98, 363.5),
           (1998.06, 363.9), (1998.14, 364.2), (1998.22, 364.5), (1998.30, 364.6), (1998.38, 364.7),
           (1998.46, 364.7), (1998.54, 364.8), (1998.62, 364.8), (1998.70, 365.0), (1998.78, 365.2),
           (1998.86, 365.3), (1998.94, 365.4), (1999.02, 365.5), (1999.10, 365.7), (1999.18, 365.9),
           (1999.26, 366.1), (1999.34, 366.3), (1999.42, 366.4), (1999.50, 366.5), (1999.58, 366.5),
           (1999.66, 366.4), (1999.74, 366.4), (1999.82, 366.3), (1999.90, 366.2), (1999.98, 366.1),
           (2000.06, 366.3), (2000.14, 366.4), (2000.22, 366.2), (2000.30, 366.4), (2000.35, 366.3)]

MCQ_FIT = [(1993.04, 356.1), (1993.13, 357.0), (1993.22, 357.9), (1993.31, 358.9), (1993.40, 359.6),
           (1993.49, 359.9), (1993.58, 360.0), (1993.67, 359.9), (1993.76, 359.6), (1993.85, 359.1),
           (1993.94, 358.5), (1994.04, 357.7)]
MCQ_OBS = [(1993.03, 355.5), (1993.26, 358.6), (1993.30, 358.2), (1993.37, 357.8), (1993.43, 359.4),
           (1993.51, 360.7), (1993.66, 359.3), (1993.72, 359.1), (1993.80, 359.7), (1993.84, 358.9),
           (1993.93, 358.5), (1994.02, 358.0)]
PSA_OBS = [(1996.62, 361.0), (1996.66, 361.0), (1996.70, 360.9), (1996.74, 360.7), (1996.78, 360.4),
           (1996.82, 360.3), (1996.86, 360.1), (1996.90, 360.1), (1996.94, 360.2), (1996.99, 360.3),
           (1997.05, 360.4), (1997.10, 360.6), (1997.16, 360.7), (1997.21, 360.8), (1997.27, 361.0),
           (1997.33, 361.3), (1997.38, 361.6), (1997.44, 361.8), (1997.50, 362.0), (1997.55, 362.1),
           (1997.61, 362.2), (1997.67, 362.3), (1997.72, 362.4), (1997.78, 362.5), (1997.84, 362.5),
           (1997.89, 362.7), (1997.95, 362.9), (1998.01, 363.2), (1998.06, 363.5), (1998.12, 363.9),
           (1998.17, 364.2), (1998.23, 364.5), (1998.29, 364.8), (1998.34, 364.9), (1998.40, 365.0),
           (1998.46, 364.9), (1998.51, 364.8), (1998.57, 364.8), (1998.63, 364.9), (1998.68, 365.0),
           (1998.74, 365.2), (1998.80, 365.3), (1998.85, 365.4), (1998.91, 365.5), (1998.97, 365.7),
           (1999.02, 365.9), (1999.08, 366.1), (1999.14, 366.3), (1999.19, 366.5), (1999.25, 366.6),
           (1999.31, 366.7), (1999.36, 366.8), (1999.42, 366.9), (1999.50, 367.0), (1999.58, 367.1),
           (1999.64, 366.9), (1999.70, 366.4), (1999.75, 366.2), (1999.80, 366.3)]

SPO_FIT = [(1991.60, 353.9), (1991.72, 353.5), (1991.85, 353.4), (1992.00, 353.8), (1992.15, 354.4),
           (1992.30, 354.9), (1992.40, 355.0), (1992.50, 354.8)]
SPO_OBS = [(1991.60, 353.9), (1991.64, 353.7), (1991.68, 353.6), (1991.72, 353.5),
           (1992.50, 354.8), (1992.58, 354.6), (1992.66, 354.5), (1992.74, 354.5), (1992.82, 354.6),
           (1992.90, 354.8), (1992.98, 355.1), (1993.06, 355.5), (1993.14, 355.8), (1993.22, 356.0),
           (1993.30, 356.0), (1993.38, 355.9), (1993.46, 355.8), (1993.54, 355.8), (1993.62, 355.8),
           (1993.70, 355.9), (1993.78, 356.1), (1993.86, 356.5), (1993.94, 356.9), (1994.02, 357.2),
           (1994.10, 357.4), (1994.18, 357.5), (1994.26, 357.5), (1994.34, 357.4), (1994.42, 357.3),
           (1994.50, 357.3), (1994.58, 357.4), (1994.66, 357.4), (1994.74, 357.5), (1994.82, 357.5),
           (1994.90, 357.6), (1994.98, 357.9), (1995.06, 358.3), (1995.14, 358.7), (1995.22, 359.0),
           (1995.30, 359.2), (1995.38, 359.3), (1995.46, 359.3), (1995.54, 359.2), (1995.62, 359.2),
           (1995.70, 359.3), (1995.78, 359.3), (1995.86, 359.3), (1995.94, 359.5), (1996.02, 359.8),
           (1996.10, 360.2), (1996.18, 360.5), (1996.26, 360.7), (1996.34, 360.7), (1996.42, 360.6),
           (1996.50, 360.4), (1996.58, 360.3), (1996.66, 360.3), (1996.74, 360.5), (1996.82, 360.8),
           (1996.90, 361.2), (1996.98, 361.6), (1997.06, 361.9), (1997.14, 362.1), (1997.22, 362.1),
           (1997.30, 362.2), (1997.38, 362.2), (1997.46, 362.3), (1997.54, 362.3), (1997.62, 362.4),
           (1997.70, 362.6), (1997.78, 362.9), (1997.86, 363.3), (1997.94, 363.8), (1998.02, 364.3),
           (1998.10, 364.7), (1998.18, 365.0), (1998.26, 365.1), (1998.34, 365.0), (1998.42, 364.9),
           (1998.50, 364.8), (1998.58, 364.8), (1998.66, 364.9), (1998.74, 365.1), (1998.82, 365.4),
           (1998.90, 365.8), (1998.98, 366.1), (1999.06, 366.3), (1999.14, 366.5), (1999.22, 366.6),
           (1999.30, 366.6), (1999.38, 366.5), (1999.46, 366.6), (1999.54, 366.7), (1999.62, 366.8),
           (1999.70, 366.9), (1999.78, 366.8), (1999.86, 366.7), (1999.94, 366.6), (2000.00, 366.3)]

CAPTION_HEAD = "Figure 2.3."
CAPTION_LINES = [
    "  As for Figure 2.2, but showing CO$_2$",
    "concentration data, reported in ppm.  All plots",
    "have the same $\\mathit{x}$ and $\\mathit{y}$ axes scales.  The $\\mathit{y}$ axes",
    "have been scaled so that visually on a mole per",
    "mole basis a CO$_2$ change will appear twice as",
    "large as the same magnitude O$_2$/N$_2$ change in",
    "Figure 2.2.  For example, in the case of Alert,",
    "the O$_2$/N$_2$ ratio and CO$_2$ seasonal cycles appear",
    "roughly comparable in amplitude, but in actual",
    "fact the O$_2$/N$_2$ ratio is almost twice as large.",
]

# ---------------------------------------------------------------- layout (pixels)
FIG_W, FIG_H = 1118, 1511
PANEL_W, PANEL_H = 472.0, 236.0
LEFT_X, RIGHT_X, TOP_Y = 100.0, 651.0, 32.3
TICK_FONT = 12.2
TITLE_FONT = 15.7
LABEL_FONT = 15.0
DOT_SIZE = 3.8

fig = plt.figure(figsize=(FIG_W / 100, FIG_H / 100), dpi=100)


def panel_axes(col_x, row):
    top = TOP_Y + row * PANEL_H
    return fig.add_axes([col_x / FIG_W, 1 - (top + PANEL_H) / FIG_H,
                         PANEL_W / FIG_W, PANEL_H / FIG_H])


def unzip(pairs):
    return [p[0] for p in pairs], [p[1] for p in pairs]


def style_panel(ax, first, last):
    ax.set_xlim(1989, 2001)
    ax.set_ylim(PPM_MIN, PPM_MAX)
    for s in ax.spines.values():
        s.set_linewidth(1.0)
    ax.xaxis.set_major_locator(FixedLocator(YEAR_TICKS))
    ax.xaxis.set_major_formatter(NullFormatter())
    ax.xaxis.set_minor_locator(FixedLocator(YEAR_CENTERS))
    ax.xaxis.set_minor_formatter(FixedFormatter(YEAR_LABELS))
    ax.tick_params(axis="x", which="major", direction="in", length=4.3, width=0.9,
                   top=True, bottom=True, labeltop=False, labelbottom=False)
    ax.tick_params(axis="x", which="minor", length=0, top=True, bottom=True,
                   labeltop=first, labelbottom=last, labelsize=TICK_FONT,
                   pad=11 if last else 5)
    lo = PPM_MIN if last else PPM_MIN + 3
    hi = PPM_MAX if first else PPM_MAX - 3
    ax.yaxis.set_major_locator(FixedLocator(list(range(lo, hi + 1, 3))))
    ax.yaxis.set_minor_locator(MultipleLocator(1))
    ax.tick_params(axis="y", which="major", direction="in", length=4.0, width=0.9,
                   left=True, right=True, labelleft=True, labelright=False,
                   labelsize=TICK_FONT, pad=7.2)
    ax.tick_params(axis="y", which="minor", direction="in", length=2.3, width=0.8,
                   left=True, right=True)


def draw_station(ax, fit, obs):
    if fit:
        t, v = unzip(fit)
        ax.plot(t, v, color="black", lw=1.1, zorder=2)
    if obs:
        t, v = unzip(obs)
        ax.plot(t, v, ls="none", marker="o", ms=DOT_SIZE, color="black", mew=0, zorder=3)


def title(ax, text, right=False):
    if right:
        ax.text(1 - 12 / PANEL_W, 1 - 29.4 / PANEL_H, text, transform=ax.transAxes,
                ha="right", va="baseline", fontsize=TITLE_FONT)
    else:
        ax.text(11 / PANEL_W, 1 - 28 / PANEL_H, text, transform=ax.transAxes,
                ha="left", va="baseline", fontsize=TITLE_FONT)


# left column: northern-hemisphere stations
left_panels = [
    ("ALT (82°N, 63°W)", ALT_FIT, ALT_OBS),
    ("CBA (55°N, 163°W)", CBA_FIT, CBA_OBS),
    ("NWR (40°N, 106°W)", NWR_FIT, NWR_OBS),
    ("LJO (33°N, 117°W)", LJO_FIT, LJO_OBS),
    ("MLO (20°N, 156°W)", MLO_FIT, MLO_OBS),
    ("KUM (20°N, 155°W)", KUM_FIT, KUM_OBS),
]
for i, (name, fit, obs) in enumerate(left_panels):
    ax = panel_axes(LEFT_X, i)
    style_panel(ax, i == 0, i == len(left_panels) - 1)
    draw_station(ax, fit, obs)
    title(ax, name)

# right column: southern-hemisphere stations
ax = panel_axes(RIGHT_X, 0)
style_panel(ax, True, False)
draw_station(ax, SMO_OBS, SMO_OBS)
title(ax, "SMO (14°S, 171°W)", right=True)

ax = panel_axes(RIGHT_X, 1)
style_panel(ax, False, False)
draw_station(ax, CGO_OBS, CGO_OBS)
title(ax, "CGO (41°S, 145°E)", right=True)

ax = panel_axes(RIGHT_X, 2)
style_panel(ax, False, False)
draw_station(ax, PSA_OBS, PSA_OBS)
t, v = unzip(MCQ_FIT)
ax.plot(t, v, color="black", lw=1.1, zorder=2)
t, v = unzip(MCQ_OBS)
ax.plot(t, v, ls="none", marker="^", ms=4.2, mfc="white", mec="black", mew=0.7, zorder=3)
title(ax, "MCQ (54°S, 159°E) and PSA (65°S, 64°W)", right=True)
handles = [Line2D([], [], ls="none", marker="o", ms=DOT_SIZE, color="black", mew=0),
           Line2D([], [], ls="none", marker="^", ms=4.2, mfc="white", mec="black", mew=0.7)]
leg = ax.legend(handles, ["PSA", "MCQ"], loc="upper left",
                bbox_to_anchor=((667 - RIGHT_X) / PANEL_W, 1 - 70 / PANEL_H),
                frameon=True, fancybox=False, edgecolor="black", framealpha=1,
                fontsize=10.5, handlelength=0.9, handletextpad=0.6, borderpad=0.42,
                labelspacing=0.25, borderaxespad=0)
leg.get_frame().set_linewidth(0.9)

ax = panel_axes(RIGHT_X, 3)
style_panel(ax, False, True)
draw_station(ax, SPO_FIT, SPO_OBS)
t, v = unzip(SPO_OBS[4:])
ax.plot(t, v, color="black", lw=1.0, zorder=2)
title(ax, "SPO (90°S)", right=True)

# axis titles
fig.text(18 / FIG_W, 1 - 717 / FIG_H, "Atmospheric CO$_2$ concentration (ppm)",
         rotation=90, ha="center", va="center", fontsize=16)
fig.text((LEFT_X + PANEL_W / 2) / FIG_W, 1 - 1500 / FIG_H, "Year",
         ha="center", va="center", fontsize=LABEL_FONT)
fig.text((RIGHT_X + PANEL_W / 2) / FIG_W, 1 - 1023 / FIG_H, "Year",
         ha="center", va="center", fontsize=LABEL_FONT)

# caption block
serif = ["Liberation Serif", "DejaVu Serif"]
cap_size = 17.0
cap_x, cap_y0, cap_step = 655, 1091, 26.2
renderer = fig.canvas.get_renderer()
head = fig.text(cap_x / FIG_W, 1 - cap_y0 / FIG_H, CAPTION_HEAD, family=serif,
                weight="bold", fontsize=cap_size, va="baseline", ha="left")
head_end = head.get_window_extent(renderer).x1
for k, line in enumerate(CAPTION_LINES):
    x = head_end if k == 0 else cap_x
    fig.text(x / FIG_W, 1 - (cap_y0 + k * cap_step) / FIG_H, line, family=serif,
             fontsize=cap_size, va="baseline", ha="left")

fig.savefig("out.png", dpi=100)
